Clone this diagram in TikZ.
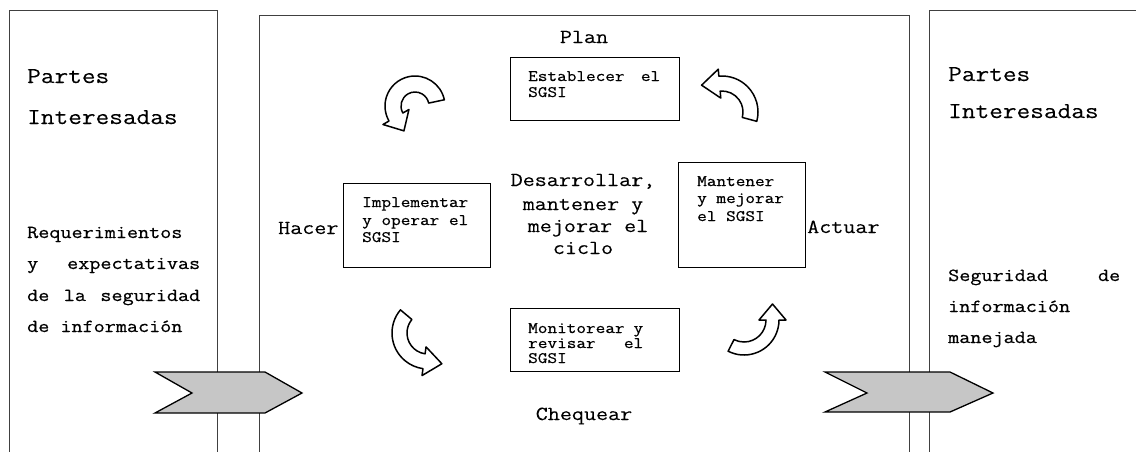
\documentclass[tikz,border=0pt]{standalone}
\usepackage{fontspec}
\newfontfamily\pdthin[FakeStretch=1.17,FakeBold=0.15]{Latin Modern Mono}
\newfontfamily\pdheavy[FakeStretch=1.17,FakeBold=0.6]{Latin Modern Mono}
\usetikzlibrary{calc}
\tikzset{
 frame/.style={draw=black!75, line width=1.1pt, anchor=north west, inner sep=0pt},
 box/.style={draw=black, line width=1.3pt, anchor=north west, inner sep=0pt},
 chev/.style={draw=black, line width=1.3pt, fill=gray!45, line join=miter},
 curv/.style={draw=black, line width=1.5pt, fill=white, line join=round},
 big/.style={font=\pdthin\fontsize{22.7}{26}\selectfont, anchor=base west, inner sep=0pt},
 small/.style={font=\pdheavy\fontsize{18.4}{20}\selectfont, anchor=base west, inner sep=0pt},
 mid/.style={font=\pdthin\fontsize{20}{22}\selectfont, anchor=base, inner sep=0pt},
 midw/.style={font=\pdthin\fontsize{20}{22}\selectfont, anchor=base west, inner sep=0pt},
 btxt/.style={font=\pdheavy\fontsize{16}{17}\selectfont, anchor=base west, inner sep=0pt},
}
\newcommand{\pdcaarrow}[8]{%
 \pgfmathsetmacro\pdRm{(#4+#5)/2}%
 \pgfmathsetmacro\pdRo{#5+7}%
 \pgfmathsetmacro\pdRi{#4-7}%
 \pgfmathsetmacro\pdTa{#7+90}%
 \coordinate (#1) at (#2,-#3);
 \path[curv] ($(#1)+(#6:#5pt)$) arc[start angle=#6,end angle=#7,radius=#5pt]
  -- ($(#1)+(#7:\pdRo pt)$) -- ($(#1)+(#7:\pdRm pt)+(\pdTa:#8pt)$)
  -- ($(#1)+(#7:\pdRi pt)$) -- ($(#1)+(#7:#4pt)$)
  arc[start angle=#7,end angle=#6,radius=#4pt] -- cycle;
}
\begin{document}
\begin{tikzpicture}[x=1pt,y=1pt]
\useasboundingbox (0,0) rectangle (1136,-451);
\clip (0,0) rectangle (1136,-451);
\fill[white] (0,0) rectangle (1136,-451);
% panels
\node[frame, minimum width=208pt, minimum height=480pt] (leftp) at (9,-10) {};
\node[frame, minimum width=650pt, minimum height=480pt] (midp) at (259,-15) {};
\node[frame, minimum width=240pt, minimum height=480pt] (rightp) at (929,-10) {};
% left texts
\node[big] (lp1) at (27,-83) {Partes};
\node[big] (lp2) at (27,-124) {Interesadas};
\node[small] (lr1) at (27,-238) {Requerimientos};
\node[small] (lr2) at (27,-269) {\makebox[173pt][l]{y\hfill expectativas}};
\node[small] (lr3) at (27,-301) {\makebox[173pt][l]{de\hfill la\hfill seguridad}};
\node[small] (lr4) at (27,-332) {de información};
% right texts
\node[big] (rp1) at (948,-81) {Partes};
\node[big] (rp2) at (948,-118) {Interesadas};
\node[small] (rr1) at (948,-281) {\makebox[172pt][l]{Seguridad\hfill de}};
\node[small] (rr2) at (948,-312) {información};
\node[small] (rr3) at (948,-343) {manejada};
% boxes
\node[box, minimum width=169pt, minimum height=63pt] (plan) at (510,-57) {};
\node[box, minimum width=147pt, minimum height=84pt] (hacer) at (343,-183) {};
\node[box, minimum width=127pt, minimum height=105pt] (actuar) at (678,-162) {};
\node[box, minimum width=169pt, minimum height=63pt] (cheq) at (510,-308) {};
% box texts
\node[btxt] at (528,-81) {\makebox[132pt][l]{Establecer\hfill el}};
\node[btxt] at (528,-97) {SGSI};
\node[btxt] at (362,-207) {Implementar};
\node[btxt] at (362,-225) {y operar el};
\node[btxt] at (362,-242) {SGSI};
\node[btxt] at (697,-186) {Mantener};
\node[btxt] at (697,-203) {y mejorar};
\node[btxt] at (697,-221) {el SGSI};
\node[btxt] at (528,-333) {\makebox[115pt][l]{Monitorear\hfill y}};
\node[btxt] at (528,-348) {\makebox[115pt][l]{revisar\hfill el}};
\node[btxt] at (528,-363) {SGSI};
% labels
\node[mid] (lplan) at (584,-43) {Plan};
\node[midw] (lhacer) at (278,-234) {Hacer};
\node[midw] (lact) at (807,-233) {Actuar};
\node[mid] (lcheq) at (584,-420) {Chequear};
\node[mid] at (583,-186) {Desarrollar,};
\node[mid] at (583,-210) {mantener y};
\node[mid] at (588,-232) {mejorar el};
\node[mid] at (583,-254) {ciclo};
% curved arrows
\pdcaarrow{aplan}{415}{106}{14}{30}{12}{210}{16}
\pdcaarrow{aact}{722}{112}{21}{36}{-15}{95}{18}
\pdcaarrow{ahac}{428}{333}{21}{36}{140}{262}{18}
\pdcaarrow{achq}{744}{320}{22}{35}{243}{360}{16}
% chevrons
\draw[chev] (155,-372) -- (265,-372) -- (302,-393) -- (265,-413) -- (155,-413) -- (192,-393) -- cycle;
\draw[chev] (825,-372) -- (950,-372) -- (993,-393) -- (950,-412) -- (825,-412) -- (867,-393) -- cycle;
\end{tikzpicture}
\end{document}
